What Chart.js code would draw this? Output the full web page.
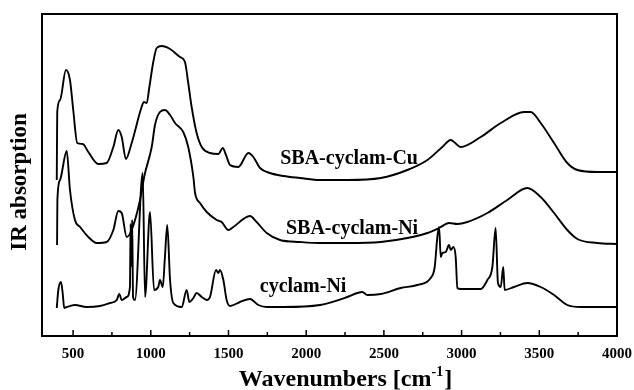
<!DOCTYPE html>
<html>
<head>
<meta charset="utf-8">
<script src="https://cdn.jsdelivr.net/npm/chart.js@4.4.1/dist/chart.umd.min.js"></script>
<style>
  html, body { margin: 0; padding: 0; background: #fff; }
  #wrap { width: 634px; height: 390px; position: relative; }
</style>
</head>
<body>
<div id="wrap"><canvas id="chart"></canvas></div>
<script>
// IR spectra, values (arbitrary absorption units, offset per trace)
const X_TICKS = [500, 1000, 1500, 2000, 2500, 3000, 3500, 4000];
const MINOR_TICKS = [750, 1250, 1750, 2250, 2750, 3250, 3750];

const CU_WN = [395, 398, 416, 454, 480, 501, 527, 562, 598, 662, 716, 759, 791, 813, 840, 877, 941, 956, 974, 990,
  1016, 1038, 1070, 1124, 1188, 1220, 1241, 1263, 1295, 1328, 1381, 1435, 1463, 1484, 1510, 1563, 1628, 1660, 1703, 1767,
  1853, 1960, 2089, 2265, 2480, 2651, 2780, 2876, 2930, 2951, 2994, 3123, 3252, 3402, 3445, 3509, 3595, 3680, 3745, 3873, 4000];
const CU_Y = [156, 224, 236, 266, 256, 226, 193, 192, 184, 172, 173, 189, 206, 199, 177, 193, 229, 234, 233, 248,
  274, 288, 290, 287, 279, 274, 253, 229, 203, 189, 183, 182, 188, 181, 171, 169, 183, 179, 168, 163,
  160, 158, 156, 156, 158, 166, 176, 189, 196, 194, 189, 199, 213, 224, 224, 213, 193, 173, 166, 164, 164];

const NI_WN = [397, 399, 416, 459, 480, 512, 545, 598, 652, 716, 759, 791, 813, 845, 877, 931, 960, 1006, 1027, 1059,
  1091, 1124, 1156, 1209, 1241, 1274, 1285, 1317, 1360, 1424, 1456, 1499, 1531, 1638, 1681, 1746, 1832, 1960, 2089, 2265,
  2480, 2651, 2780, 2855, 2919, 2973, 3037, 3166, 3294, 3423, 3509, 3595, 3680, 3745, 3873, 4000];
const NI_Y = [91, 136, 156, 185, 146, 116, 109, 99, 93, 94, 106, 125, 123, 99, 106, 136, 161, 189, 211, 224,
  226, 221, 213, 204, 189, 159, 143, 133, 124, 116, 114, 106, 109, 120, 114, 103, 96, 94, 93, 93,
  94, 98, 103, 108, 113, 112, 114, 123, 136, 148, 139, 123, 106, 97, 93, 92];

const CYC_WN = [395, 405, 422, 433, 443, 459, 512, 587, 673, 738, 781, 797, 813, 845, 866, 870, 875, 880, 886, 898,
  948, 963, 995, 1021, 1048, 1059, 1077, 1091, 1106, 1124, 1145, 1199, 1231, 1248, 1274, 1295, 1328, 1360, 1381, 1420,
  1435, 1445, 1467, 1488, 1510, 1574, 1638, 1692, 1746, 1853, 2089, 2265, 2329, 2361, 2393, 2480, 2608, 2715, 2801, 2827,
  2844, 2855, 2866, 2876, 2898, 2919, 2930, 2947, 2962, 2973, 2994, 3123, 3166, 3198, 3219, 3234, 3252, 3268, 3277, 3337,
  3423, 3509, 3595, 3680, 3766, 4000];
const CYC_Y = [28, 46, 54, 43, 28, 29, 31, 29, 30, 33, 36, 42, 36, 39, 49, 112, 70, 116, 39, 36,
  163, 39, 124, 46, 49, 56, 49, 79, 111, 56, 33, 29, 46, 34, 38, 43, 39, 36, 39, 66,
  63, 66, 56, 36, 30, 34, 37, 31, 29, 29, 31, 39, 43, 44, 41, 42, 48, 51, 58, 69,
  99, 109, 79, 83, 84, 91, 86, 89, 79, 48, 47, 47, 56, 69, 108, 53, 49, 69, 46, 49,
  53, 49, 41, 31, 29, 29];

const SERIES = [
  { name: "SBA-cyclam-Cu", wn: CU_WN, y: CU_Y },
  { name: "SBA-cyclam-Ni", wn: NI_WN, y: NI_Y },
  { name: "cyclam-Ni", wn: CYC_WN, y: CYC_Y },
];

const FONT = "'Liberation Serif', 'Times New Roman', serif";

// frame, inward ticks, axis titles and the trace names
const decor = {
  id: "decor",
  afterDraw(chart) {
    const { ctx, chartArea: a, scales } = chart;
    ctx.save();
    ctx.strokeStyle = "#000";
    ctx.lineWidth = 2;
    ctx.strokeRect(a.left, a.top, a.right - a.left, a.bottom - a.top);
    ctx.lineWidth = 1.5;
    ctx.beginPath();
    X_TICKS.forEach((v) => {
      const x = scales.x.getPixelForValue(v);
      ctx.moveTo(x, a.bottom);
      ctx.lineTo(x, a.bottom - 6);
    });
    MINOR_TICKS.forEach((v) => {
      const x = scales.x.getPixelForValue(v);
      ctx.moveTo(x, a.bottom);
      ctx.lineTo(x, a.bottom - 4);
    });
    ctx.stroke();

    ctx.fillStyle = "#000";
    ctx.font = "bold 20px " + FONT;
    ctx.textAlign = "center";
    ctx.textBaseline = "middle";
    const put = (txt, wn, val) =>
      ctx.fillText(txt, scales.x.getPixelForValue(wn), scales.y.getPixelForValue(val));
    put("SBA-cyclam-Cu", 2276, 177);
    put("SBA-cyclam-Ni", 2295, 107);
    put("cyclam-Ni", 1980, 49);

    // x title with superscript
    ctx.textAlign = "left";
    ctx.textBaseline = "alphabetic";
    const big = "bold 24px " + FONT, small = "bold 14px " + FONT;
    const p1 = "Wavenumbers [cm", p2 = "-1", p3 = "]";
    ctx.font = big;
    const w1 = ctx.measureText(p1).width, w3 = ctx.measureText(p3).width;
    ctx.font = small;
    const w2 = ctx.measureText(p2).width;
    let x = (a.left + a.right) / 2 + 16 - (w1 + w2 + w3 + 1) / 2;
    const base = 386;
    ctx.font = big;
    ctx.fillText(p1, x, base);
    x += w1;
    ctx.font = small;
    ctx.fillText(p2, x, base - 10);
    x += w2 + 1;
    ctx.font = big;
    ctx.fillText(p3, x, base);

    // y title
    ctx.translate(20, (a.top + a.bottom) / 2 + 7);
    ctx.rotate(-Math.PI / 2);
    ctx.textAlign = "center";
    ctx.textBaseline = "middle";
    ctx.font = "bold 23px " + FONT;
    ctx.fillText("IR absorption", 0, 0);
    ctx.restore();
  },
};

new Chart(document.getElementById("chart"), {
  type: "line",
  data: {
    datasets: SERIES.map((s) => ({
      label: s.name,
      data: s.wn.map((w, i) => ({ x: w, y: s.y[i] })),
      borderColor: "#000",
      borderWidth: 1.9,
      pointRadius: 0,
      cubicInterpolationMode: "monotone",
      fill: false,
    })),
  },
  options: {
    responsive: true,
    maintainAspectRatio: false,
    animation: false,
    layout: { padding: { top: 14, right: 17, left: 0, bottom: 0 } },
    plugins: { legend: { display: false }, tooltip: { enabled: false } },
    scales: {
      x: {
        type: "linear",
        min: 300,
        max: 4000,
        grid: { display: false, drawTicks: false },
        border: { display: false },
        afterBuildTicks: (s) => { s.ticks = X_TICKS.map((v) => ({ value: v })); },
        afterFit: (s) => { s.height = 54; s.paddingRight = 0; s.paddingLeft = 0; },
        ticks: {
          color: "#000",
          padding: 9,
          maxRotation: 0,
          callback: (v) => String(v),
          font: { family: FONT, size: 15, weight: "bold" },
        },
      },
      y: {
        min: 0,
        max: 322,
        grid: { display: false, drawTicks: false },
        border: { display: false },
        ticks: { display: false },
        afterFit: (s) => { s.width = 42; },
      },
    },
  },
  plugins: [decor],
});
</script>
</body>
</html>
